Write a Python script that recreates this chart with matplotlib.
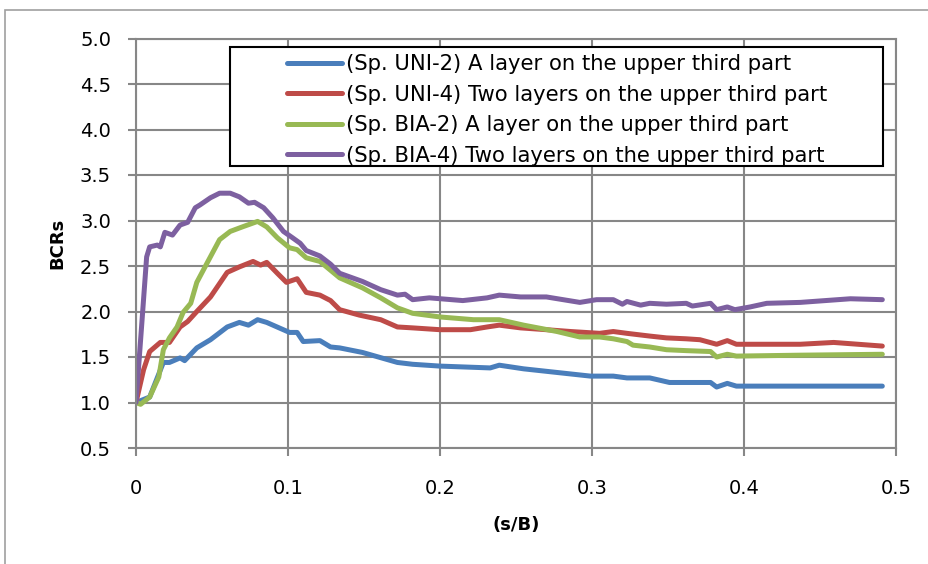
import matplotlib
matplotlib.use("Agg")
import matplotlib.pyplot as plt
from matplotlib.patches import Rectangle

plt.rcParams['font.family'] = ['DejaVu Sans']

#Data
uni2_x = [0.0, 0.009, 0.018, 0.022, 0.029, 0.032, 0.040, 0.049, 0.060, 0.068, 0.074, 0.080,
          0.086, 0.101, 0.106, 0.110, 0.121, 0.128, 0.134, 0.149, 0.172, 0.182, 0.200, 0.233,
          0.239, 0.255, 0.277, 0.299, 0.314, 0.323, 0.338, 0.351, 0.366, 0.378, 0.382, 0.389,
          0.395, 0.491]
uni2_y = [1.00, 1.06, 1.44, 1.44, 1.49, 1.46, 1.60, 1.69, 1.83, 1.88, 1.85, 1.91,
          1.88, 1.77, 1.77, 1.67, 1.68, 1.61, 1.60, 1.55, 1.44, 1.42, 1.40, 1.38,
          1.41, 1.37, 1.33, 1.29, 1.29, 1.27, 1.27, 1.22, 1.22, 1.22, 1.17, 1.21,
          1.18, 1.18]

uni4_x = [0.0, 0.005, 0.009, 0.016, 0.022, 0.029, 0.034, 0.040, 0.049, 0.060, 0.068, 0.077,
          0.082, 0.086, 0.093, 0.099, 0.106, 0.112, 0.121, 0.128, 0.134, 0.147, 0.161, 0.172,
          0.182, 0.200, 0.220, 0.231, 0.239, 0.253, 0.270, 0.286, 0.305, 0.314, 0.323, 0.338,
          0.349, 0.362, 0.371, 0.382, 0.389, 0.395, 0.437, 0.459, 0.491]
uni4_y = [1.00, 1.36, 1.56, 1.66, 1.66, 1.83, 1.89, 2.00, 2.16, 2.43, 2.49, 2.55,
          2.51, 2.54, 2.42, 2.32, 2.36, 2.21, 2.18, 2.12, 2.02, 1.96, 1.91, 1.83,
          1.82, 1.80, 1.80, 1.83, 1.85, 1.82, 1.80, 1.78, 1.76, 1.78, 1.76, 1.73,
          1.71, 1.70, 1.69, 1.64, 1.68, 1.64, 1.64, 1.66, 1.62]

bia2_x = [0.0, 0.003, 0.009, 0.015, 0.018, 0.022, 0.027, 0.031, 0.036, 0.040, 0.047, 0.055,
          0.062, 0.070, 0.080, 0.086, 0.093, 0.101, 0.106, 0.112, 0.121, 0.134, 0.149, 0.161,
          0.172, 0.182, 0.200, 0.222, 0.239, 0.255, 0.277, 0.292, 0.305, 0.314, 0.323, 0.327,
          0.338, 0.349, 0.362, 0.378, 0.382, 0.389, 0.395, 0.437, 0.491]
bia2_y = [1.00, 0.98, 1.06, 1.28, 1.58, 1.71, 1.83, 1.99, 2.09, 2.32, 2.54, 2.79,
          2.88, 2.93, 2.99, 2.93, 2.81, 2.70, 2.68, 2.59, 2.55, 2.37, 2.26, 2.15,
          2.04, 1.98, 1.94, 1.91, 1.91, 1.85, 1.78, 1.72, 1.72, 1.70, 1.67, 1.63,
          1.61, 1.58, 1.57, 1.56, 1.50, 1.53, 1.51, 1.52, 1.53]

bia4_x = [0.0, 0.004, 0.007, 0.009, 0.014, 0.016, 0.019, 0.024, 0.029, 0.034, 0.039, 0.042,
          0.049, 0.055, 0.062, 0.068, 0.074, 0.078, 0.084, 0.090, 0.097, 0.103, 0.108, 0.112,
          0.121, 0.128, 0.134, 0.149, 0.161, 0.172, 0.177, 0.182, 0.193, 0.215, 0.231, 0.239,
          0.253, 0.270, 0.281, 0.292, 0.303, 0.314, 0.320, 0.323, 0.332, 0.338, 0.349, 0.362,
          0.366, 0.378, 0.382, 0.389, 0.394, 0.404, 0.415, 0.437, 0.470, 0.491]
bia4_y = [1.00, 1.91, 2.60, 2.71, 2.73, 2.71, 2.87, 2.84, 2.95, 2.98, 3.14, 3.17,
          3.25, 3.30, 3.30, 3.26, 3.19, 3.20, 3.14, 3.03, 2.88, 2.81, 2.75, 2.67,
          2.61, 2.52, 2.42, 2.33, 2.24, 2.18, 2.19, 2.13, 2.15, 2.12, 2.15, 2.18,
          2.16, 2.16, 2.13, 2.10, 2.13, 2.13, 2.08, 2.11, 2.07, 2.09, 2.08, 2.09,
          2.06, 2.09, 2.02, 2.05, 2.02, 2.05, 2.09, 2.10, 2.14, 2.13]

labels = [
    "(Sp. UNI-2) A layer on the upper third part",
    "(Sp. UNI-4) Two layers on the upper third part",
    "(Sp. BIA-2) A layer on the upper third part",
    "(Sp. BIA-4) Two layers on the upper third part",
]
colors = ["#4A7EBB", "#BE4B48", "#98B954", "#7D60A0"]

x_ticks = [0, 0.1, 0.2, 0.3, 0.4, 0.5]
x_tick_labels = ["0", "0.1", "0.2", "0.3", "0.4", "0.5"]
y_ticks = [0.5, 1.0, 1.5, 2.0, 2.5, 3.0, 3.5, 4.0, 4.5, 5.0]

#Figure
fig = plt.figure(figsize=(9.29, 5.64), dpi=100)
fig.patches.append(Rectangle((5/929, -0.1), 1.0, 1.1 - 10/564,
                             transform=fig.transFigure, fill=False,
                             edgecolor="#A0A0A0", linewidth=1.2))
ax = fig.add_axes([136/929, 1 - 448/564, 760/929, (448 - 38.5)/564])

series = [(uni2_x, uni2_y), (uni4_x, uni4_y), (bia2_x, bia2_y), (bia4_x, bia4_y)]
for (xs, ys), c, lab in zip(series, colors, labels):
    ax.plot(xs, ys, color=c, linewidth=3.6, label=lab, solid_capstyle="round",
            solid_joinstyle="round")

ax.set_xlim(0, 0.5)
ax.set_ylim(0.5, 5.0)
ax.set_xticks(x_ticks)
ax.set_xticklabels(x_tick_labels)
ax.set_yticks(y_ticks)
ax.set_yticklabels([f"{v:.1f}" for v in y_ticks])
ax.grid(True, color="#878787", linewidth=1.5)
ax.set_axisbelow(True)
for s in ax.spines.values():
    s.set_color("#878787")
    s.set_linewidth(1.5)
ax.tick_params(direction="out", length=6, width=1.5, color="#878787",
               labelsize=14, pad=12)
ax.tick_params(axis="x", pad=16)

ax.set_xlabel("(s/B)", fontsize=13, fontweight="bold", labelpad=13)
ax.set_ylabel("BCRs", fontsize=13, fontweight="bold", labelpad=10)

# legend frame drawn separately (Excel style, wide left padding)
ax.add_patch(Rectangle(((230 - 136)/760, 1 - (166 - 38.5)/409.5), (883 - 230)/760, 119/409.5,
                       transform=ax.transAxes, facecolor="white", edgecolor="black",
                       linewidth=1.5, zorder=5))
leg = ax.legend(loc="upper left", bbox_to_anchor=((287 - 136)/760, 1 - (54 - 38.5)/409.5),
                prop={'size': 15.2}, frameon=False,
                handlelength=2.6, handletextpad=0.2, borderpad=0, borderaxespad=0,
                labelspacing=0.5)
leg.set_zorder(6)

fig.savefig("out.png", dpi=100)
